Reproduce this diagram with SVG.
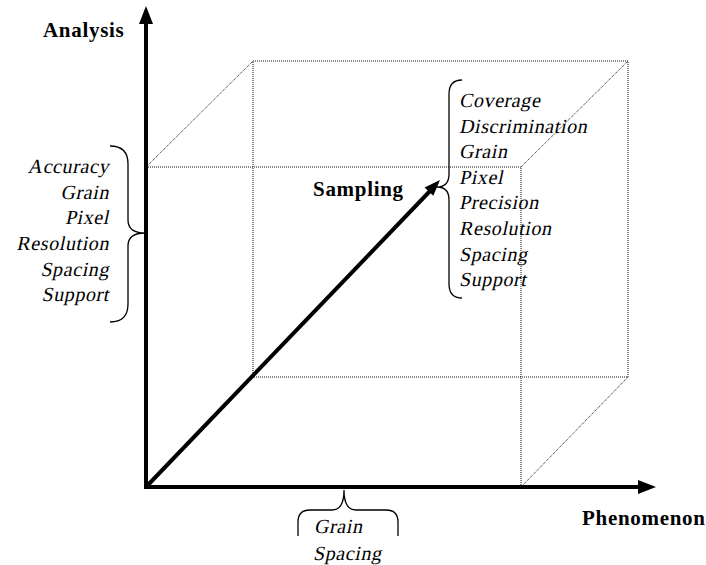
<svg xmlns="http://www.w3.org/2000/svg" width="706" height="565" viewBox="0 0 706 565">
<style>
.dot{stroke:#111;stroke-width:1;stroke-dasharray:1,1;fill:none}
.ax{stroke:#000;stroke-width:4;fill:none}
.br{stroke:#000;stroke-width:1.3;fill:none}
.it{font-family:"Liberation Serif","Times New Roman",serif;font-size:20px;letter-spacing:0.6px;fill:#000}
.bd{font-family:"Liberation Serif","Times New Roman",serif;font-weight:bold;font-size:21px;letter-spacing:0.7px;fill:#000}
</style>
<rect width="706" height="565" fill="#fff"/>
<g id="cube">
<rect class="dot" x="146" y="167" width="375" height="320"/>
<polyline class="dot" points="253,377 253,61 628,61 628,377 253,377"/>
<line class="dot" x1="146" y1="167" x2="253" y2="61"/>
<line class="dot" x1="521" y1="167" x2="628" y2="61"/>
<line class="dot" x1="521" y1="487" x2="628" y2="377"/>
</g>
<g id="connectors">
<line class="ax" x1="146" y1="489" x2="146" y2="22"/>
<polygon points="146,6 139,24 153,24" fill="#000"/>
<line class="ax" x1="144" y1="487" x2="640" y2="487"/>
<polygon points="656,487 638,480 638,494" fill="#000"/>
<line class="ax" x1="146" y1="487" x2="431" y2="190"/>
<polygon points="440,180 433.3,195.7 424.6,187.4" fill="#000"/>
</g>
<g id="analysis"><text class="bd" x="43" y="37">Analysis</text></g>
<g id="phenomenon"><text class="bd" x="582" y="525">Phenomenon</text></g>
<g id="sampling"><text class="bd" x="313" y="196">Sampling</text></g>
<g id="analysis-list">
<path class="br" d="M110,146 Q128,146 128,164 L128,220 Q128,233 145,233 Q128,233 128,246 L128,304 Q128,322 110,322"/>
<g class="it" text-anchor="end">
<text transform="translate(109,173) skewX(-12)">Accuracy</text>
<text transform="translate(109,199) skewX(-12)">Grain</text>
<text transform="translate(109,224) skewX(-12)">Pixel</text>
<text transform="translate(109,250) skewX(-12)">Resolution</text>
<text transform="translate(109,276) skewX(-12)">Spacing</text>
<text transform="translate(109,301) skewX(-12)">Support</text>
</g>
</g>
<g id="sampling-list">
<path class="br" d="M462,80 Q449,80 449,94 L449,174 Q449,187 437,187 Q449,187 449,200 L449,284 Q449,298 462,298"/>
<g class="it">
<text transform="translate(459,107) skewX(-12)">Coverage</text>
<text transform="translate(459,133) skewX(-12)">Discrimination</text>
<text transform="translate(459,158) skewX(-12)">Grain</text>
<text transform="translate(459,184) skewX(-12)">Pixel</text>
<text transform="translate(459,209) skewX(-12)">Precision</text>
<text transform="translate(459,235) skewX(-12)">Resolution</text>
<text transform="translate(459,261) skewX(-12)">Spacing</text>
<text transform="translate(459,286) skewX(-12)">Support</text>
</g>
</g>
<g id="phenomenon-list">
<path class="br" d="M298,536 L298,522 Q298,510 310,510 L332,510 Q344,510 344,490 Q344,510 356,510 L386,510 Q398,510 398,522 L398,536"/>
<g class="it">
<text transform="translate(314,533) skewX(-12)">Grain</text>
<text transform="translate(313,560) skewX(-12)">Spacing</text>
</g>
</g>
</svg>
